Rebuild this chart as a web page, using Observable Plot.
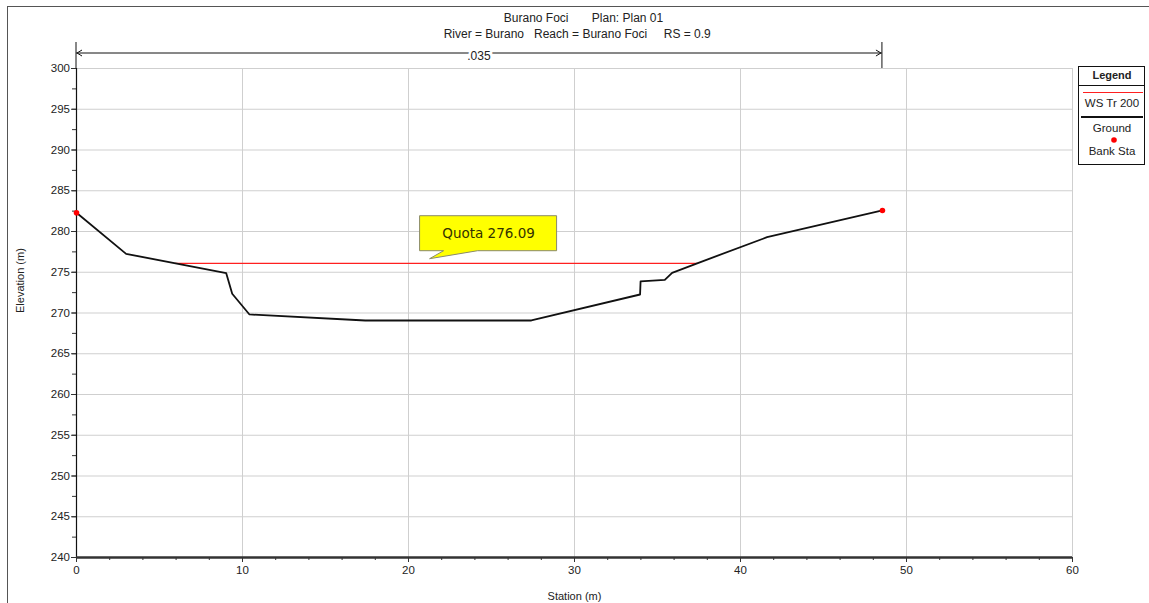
<!DOCTYPE html>
<html>
<head>
<meta charset="utf-8">
<script src="https://cdn.jsdelivr.net/npm/d3@7"></script>
<script src="https://cdn.jsdelivr.net/npm/@observablehq/plot@0.6"></script>
<style>
  html, body { margin: 0; padding: 0; background: #fff; }
  #chart svg text { white-space: pre; }
</style>
</head>
<body>
<div id="chart"></div>
<script>
// ---- data ----
const titleLines = ["Burano Foci       Plan: Plan 01", "River = Burano   Reach = Burano Foci     RS = 0.9"];
const groundStation = [0, 2.99, 9.02, 9.38, 10.42, 17.4, 27.4, 33.95, 33.98, 35.44, 35.88, 37.39, 41.6, 48.55];
const groundElev = [282.3, 277.26, 274.88, 272.36, 269.82, 269.08, 269.08, 272.27, 273.87, 274.07, 274.93, 276.1, 279.3, 282.58];
const wsStation = [5.95, 37.4];
const wsElev = [276.09, 276.09];
const bankStation = [0, 48.55];
const bankElev = [282.3, 282.58];
const manningN = [".035"];
const manningStations = [0, 48.55];
const calloutText = "Quota 276.09";
const calloutStation = 21.3;
const calloutElev = 276.6;
const xTicks = [0, 10, 20, 30, 40, 50, 60];
const xMinor = d3.range(0, 61, 2);
const yTicks = [240, 245, 250, 255, 260, 265, 270, 275, 280, 285, 290, 295, 300];
const yMinor = d3.range(240, 300.1, 2.5);
const legendItems = ["WS Tr 200", "Ground", "Bank Sta"];

const ground = groundStation.map((x, i) => ({x, y: groundElev[i]}));
const ws = wsStation.map((x, i) => ({x, y: wsElev[i]}));
const banks = bankStation.map((x, i) => ({x, y: bankElev[i]}));

const font = "'Liberation Sans', Arial, sans-serif";

const plot = Plot.plot({
  width: 1149,
  height: 603,
  marginLeft: 76,
  marginRight: 77,
  marginTop: 68,
  marginBottom: 46,
  style: {fontFamily: font, fontSize: "11.5px", background: "#fff", color: "#222", overflow: "visible"},
  x: {domain: [0, 60], label: null},
  y: {domain: [240, 300], label: null},
  marks: [
    Plot.gridX(xTicks, {stroke: "#cfcfcf", strokeOpacity: 1}),
    Plot.gridY(yTicks, {stroke: "#cfcfcf", strokeOpacity: 1}),
    Plot.axisX(xMinor, {tickSize: 3, tickFormat: () => "", stroke: "#333"}),
    Plot.axisX(xTicks, {tickSize: 5, tickPadding: 3, stroke: "#333", fill: "#222"}),
    Plot.axisY(yMinor, {tickSize: 4, tickFormat: () => "", stroke: "#333"}),
    Plot.axisY(yTicks, {tickSize: 5, tickPadding: 1.5, stroke: "#333", fill: "#222"}),
    Plot.ruleX([0], {stroke: "#111", strokeWidth: 1.2}),
    Plot.ruleY([240], {stroke: "#333", strokeWidth: 2.5}),
    Plot.line(ws, {x: "x", y: "y", stroke: "#ff2020", strokeWidth: 1.2}),
    Plot.line(ground, {x: "x", y: "y", stroke: "#111", strokeWidth: 1.8}),
    Plot.dot(banks, {x: "x", y: "y", r: 2.8, fill: "#ff0000", stroke: "none"}),
    Plot.text(["Station (m)"], {frameAnchor: "bottom", lineAnchor: "middle", dy: 39, fontSize: 11, fill: "#222"}),
    Plot.text(["Elevation (m)"], {frameAnchor: "left", lineAnchor: "middle", dx: -56, rotate: -90, fontSize: 11, fill: "#222"}),
    Plot.text([titleLines[0]], {frameAnchor: "top", lineAnchor: "middle", dy: -50, dx: 9, fontSize: 12, fill: "#222"}),
    Plot.text([titleLines[1]], {frameAnchor: "top", lineAnchor: "middle", dy: -34, dx: 2.7, fontSize: 12, fill: "#222"})
  ]
});

document.getElementById("chart").appendChild(plot);

// ---- annotations using the plot's scales ----
const sx = plot.scale("x"), sy = plot.scale("y");
const svg = d3.select(plot);
const X = v => sx.apply(v), Y = v => sy.apply(v);

// outer frame
svg.insert("rect", ":first-child").attr("x", 7.5).attr("y", 6.5).attr("width", 1160).attr("height", 620)
  .attr("fill", "none").attr("stroke", "#555").attr("stroke-width", 1);

// Manning n marker
const ny = Y(300) - 15;
const nx0 = X(manningStations[0]), nx1 = X(manningStations[1]);
const ann = svg.append("g").attr("stroke", "#111").attr("fill", "none");
manningStations.forEach(s => ann.append("line").attr("x1", X(s)).attr("x2", X(s)).attr("y1", Y(300) - 26).attr("y2", Y(300)));
ann.append("line").attr("x1", nx0).attr("x2", nx1).attr("y1", ny).attr("y2", ny);
ann.append("path").attr("d", `M${nx0 + 6},${ny - 3}L${nx0 + 1},${ny}L${nx0 + 6},${ny + 3}`);
ann.append("path").attr("d", `M${nx1 - 6},${ny - 3}L${nx1 - 1},${ny}L${nx1 - 6},${ny + 3}`);
svg.append("text").attr("x", (nx0 + nx1) / 2).attr("y", ny + 2.5).attr("dy", "0.35em").attr("text-anchor", "middle")
  .attr("font-size", 12).attr("fill", "#222").attr("stroke", "#fff").attr("stroke-width", 5)
  .attr("paint-order", "stroke").text(manningN[0]);

// callout
const tx = X(calloutStation), ty = Y(calloutElev);
const bx0 = tx - 10, bx1 = tx + 127, by0 = ty - 43, by1 = ty - 8;
svg.append("path")
  .attr("d", `M${bx0},${by0}H${bx1}V${by1}H${tx + 48}L${tx},${ty}L${tx + 14},${by1}H${bx0}Z`)
  .attr("fill", "#ffff00").attr("stroke", "#8a8a6a").attr("stroke-width", 1);
svg.append("text").attr("x", (bx0 + bx1) / 2 + 0.5).attr("y", (by0 + by1) / 2).attr("dy", "0.35em")
  .attr("text-anchor", "middle").attr("font-family", "'DejaVu Sans', sans-serif").attr("font-size", 13.5)
  .attr("fill", "#333300").text(calloutText);

// legend
const lg = svg.append("g").attr("font-family", font).attr("fill", "#222");
const lx0 = 1078, lx1 = 1144, lcx = 1112;
lg.append("rect").attr("x", lx0 + 0.5).attr("y", 66.5).attr("width", lx1 - lx0).attr("height", 98)
  .attr("fill", "#fff").attr("stroke", "#111");
lg.append("text").attr("x", lcx).attr("y", 75).attr("dy", "0.35em").attr("text-anchor", "middle")
  .attr("font-weight", "bold").attr("font-size", 11).text("Legend");
lg.append("line").attr("x1", lx0).attr("x2", lx1).attr("y1", 85.5).attr("y2", 85.5).attr("stroke", "#111");
lg.append("line").attr("x1", lx0 + 5).attr("x2", lx1 - 1).attr("y1", 92.5).attr("y2", 92.5).attr("stroke", "#ff2020").attr("stroke-width", 1.2);
lg.append("text").attr("x", lcx).attr("y", 103).attr("dy", "0.35em").attr("text-anchor", "middle").attr("font-size", 11.5).text(legendItems[0]);
lg.append("line").attr("x1", lx0 + 3).attr("x2", lx1 - 1).attr("y1", 117).attr("y2", 117).attr("stroke", "#111").attr("stroke-width", 2);
lg.append("text").attr("x", lcx).attr("y", 127.5).attr("dy", "0.35em").attr("text-anchor", "middle").attr("font-size", 11.5).text(legendItems[1]);
lg.append("circle").attr("cx", lcx + 2).attr("cy", 140).attr("r", 2.8).attr("fill", "#ff0000");
lg.append("text").attr("x", lcx).attr("y", 151).attr("dy", "0.35em").attr("text-anchor", "middle").attr("font-size", 11.5).text(legendItems[2]);
</script>
</body>
</html>
